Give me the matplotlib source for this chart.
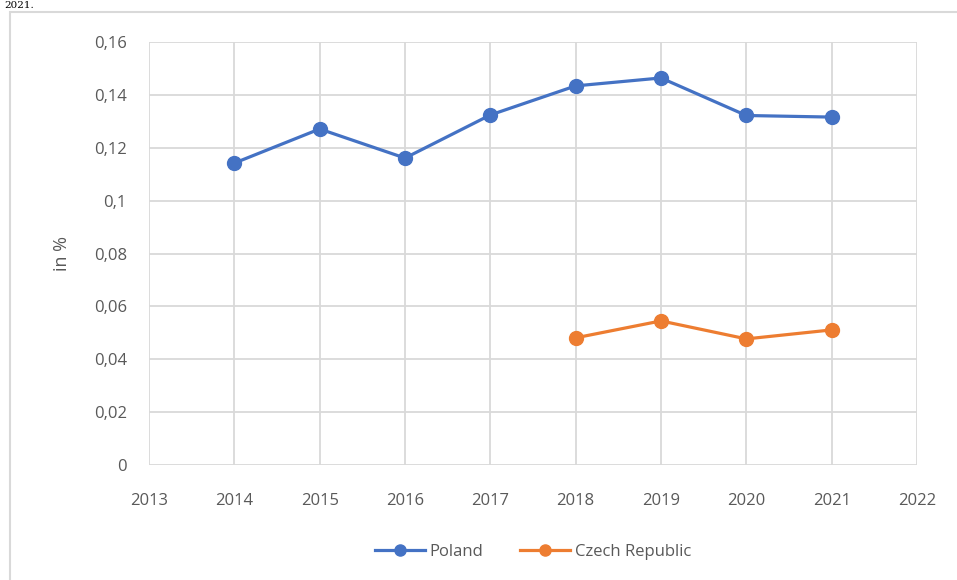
import matplotlib
matplotlib.use("Agg")
import matplotlib.pyplot as plt
from matplotlib.patches import Rectangle
from matplotlib.ticker import FuncFormatter

years_pl = [2014, 2015, 2016, 2017, 2018, 2019, 2020, 2021]
poland = [0.1142, 0.1271, 0.1161, 0.1324, 0.1434, 0.1464, 0.1322, 0.1316]
years_cz = [2018, 2019, 2020, 2021]
czech = [0.0481, 0.0545, 0.0477, 0.0511]

plt.rcParams['font.family'] = ['Open Sans', 'DejaVu Sans']

fig = plt.figure(figsize=(9.57, 5.8), dpi=100)
ax = fig.add_axes([149/957, 1 - 465/580, 768/957, 423/580])

grid_c = '#d9d9d9'
text_c = '#595959'

# outer chart border
fig.patches.append(Rectangle((10/957, -0.05), 1.0, 1 - 12/580 + 0.05,
                             transform=fig.transFigure, fill=False,
                             edgecolor=grid_c, linewidth=1.5))
fig.text(4/957, 1 - 1/580, '2021.', fontsize=7.5, family='DejaVu Serif',
         va='top', ha='left')

ax.plot(years_pl, poland, color='#4472c4', lw=2.3, marker='o', ms=10,
        label='Poland', zorder=3)
ax.plot(years_cz, czech, color='#ed7d31', lw=2.3, marker='o', ms=10,
        label='Czech Republic', zorder=3)

ax.set_xlim(2013, 2022)
ax.set_ylim(0, 0.16)
ax.set_xticks(range(2013, 2023))
ax.set_yticks([i * 0.02 for i in range(9)])
ax.yaxis.set_major_formatter(FuncFormatter(
    lambda v, p: '0' if abs(v) < 1e-9 else ('%g' % round(v, 2)).replace('.', ',')))
ax.grid(True, color=grid_c, lw=1.3)
ax.set_axisbelow(True)
for s in ax.spines.values():
    s.set_visible(False)
ax.tick_params(length=0, labelsize=12, colors=text_c)
ax.tick_params(axis='x', pad=20)
ax.tick_params(axis='y', pad=16)
ax.set_ylabel('in %', fontsize=13, color=text_c, labelpad=16)

ax.legend(loc='center', bbox_to_anchor=(0.5, -87/423), ncol=2,
          frameon=False, fontsize=12, labelcolor=text_c, handlelength=3,
          columnspacing=2.2, handletextpad=0.3, markerscale=0.8)

fig.savefig('out.png', dpi=100)
